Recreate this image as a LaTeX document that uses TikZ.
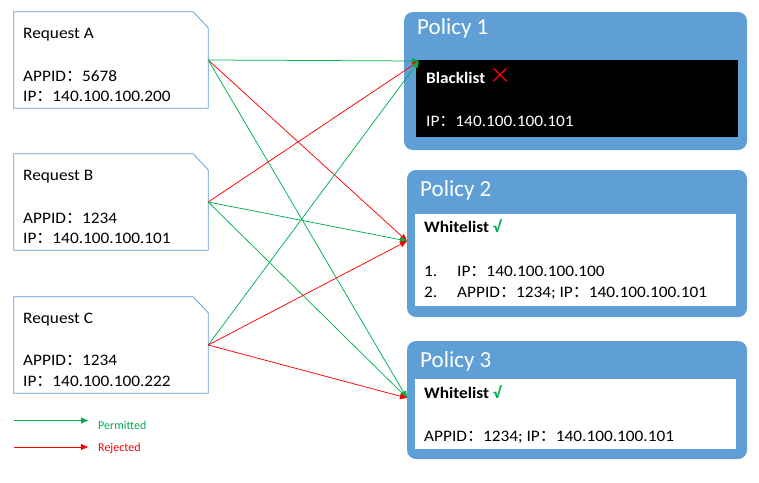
\documentclass[tikz,border=0pt]{standalone}
\usepackage{fontspec}
\setmainfont{Carlito}
\newfontfamily\bodyfont{Carlito}[FakeStretch=1.08]
\newfontfamily\cjkfont{Noto Sans CJK SC}
\newfontfamily\symfont{DejaVu Sans}
\usetikzlibrary{arrows.meta}
\definecolor{reqblue}{HTML}{5B9BD5}
\definecolor{polblue}{HTML}{5F9FD6}
\definecolor{okgreen}{HTML}{00B050}
\definecolor{nored}{HTML}{FF0000}
\newcommand\fcol{{\cjkfont ：}}
\begin{document}
\begin{tikzpicture}[x=1pt,y=-1pt,
  reqbox/.style={minimum width=194pt,minimum height=96pt,inner sep=0pt},
  reqline/.style={draw=reqblue,line width=0.75pt},
  txt/.style={anchor=base west,inner sep=0pt,font=\bodyfont\fontsize{16}{18}\selectfont},
  ttl/.style={anchor=base west,inner sep=0pt,text=white,font=\fontsize{23}{26}\selectfont},
  legtxt/.style={anchor=base west,inner sep=0pt,font=\fontsize{12}{14}\selectfont},
  outer/.style={fill=polblue,rounded corners=9pt,inner sep=0pt},
  inner/.style={inner sep=0pt},
  conn/.style={line width=0.75pt,-{Triangle[length=7pt,width=6pt]}},
  permit/.style={conn,draw=okgreen},
  reject/.style={conn,draw=nored}]
\useasboundingbox (0,0) rectangle (759,482);

% request boxes
\foreach \n/\c in {ra/60,rb/202,rc/345}{
  \node[reqbox] (\n) at (111,\c) {};
  \draw[reqline] (\n.south west) -- (\n.north west) -- ([xshift=-15pt]\n.north east)
     -- ([yshift=-16pt]\n.north east) -- (\n.south east) -- cycle;
}
\node[txt] (ra1) at (23,38) {Request A};
\node[txt] (ra2) at (23,81) {APPID\fcol 5678};
\node[txt] (ra3) at (23,101) {IP\fcol 140.100.100.200};
\node[txt] (rb1) at (23,180) {Request B};
\node[txt] (rb2) at (23,223) {APPID\fcol 1234};
\node[txt] (rb3) at (23,243) {IP\fcol 140.100.100.101};
\node[txt] (rc1) at (23,323) {Request C};
\node[txt] (rc2) at (23,365) {APPID\fcol 1234};
\node[txt] (rc3) at (23,386) {IP\fcol 140.100.100.222};

% policy boxes
\node[outer,minimum width=343pt,minimum height=138pt] (p1) at (575.5,81) {};
\node[inner,fill=black,minimum width=322pt,minimum height=77pt] (p1in) at (577,98.5) {};
\node[outer,minimum width=340pt,minimum height=147pt] (p2) at (577,243.5) {};
\node[inner,fill=white,minimum width=321pt,minimum height=92pt] (p2in) at (575.5,260) {};
\node[outer,minimum width=340pt,minimum height=118pt] (p3) at (577,400) {};
\node[inner,fill=white,minimum width=321pt,minimum height=70pt] (p3in) at (575.5,414) {};

\node[ttl] (p1t) at (417,34) {Policy 1};
\node[ttl] (p2t) at (420,196) {Policy 2};
\node[ttl] (p3t) at (420,367) {Policy 3};

\node[txt,text=white] (p1a) at (426,83) {\textbf{Blacklist} {\color{nored}\cjkfont\fontsize{22}{22}\selectfont ×}};
\node[txt,text=white] (p1b) at (426,126) {IP\fcol 140.100.100.101};

\node[txt] (p2a) at (424,232) {\textbf{Whitelist} {\color{okgreen}\textbf{√}}};
\node[txt] (p2b) at (424,276) {1.};
\node[txt] (p2c) at (457,276) {IP\fcol 140.100.100.100};
\node[txt] (p2d) at (424,297) {2.};
\node[txt] (p2e) at (457,297) {APPID\fcol 1234; IP\fcol 140.100.100.101};

\node[txt] (p3a) at (424,398) {\textbf{Whitelist} {\color{okgreen}\textbf{√}}};
\node[txt] (p3b) at (424,441) {APPID\fcol 1234; IP\fcol 140.100.100.101};

% connector targets
\coordinate (t1) at (419,61);
\coordinate (t2) at (407,241);
\coordinate (t3) at (407,398);

\draw[permit] (ra.east) -- (t1);
\draw[reject] (ra.east) -- (t2);
\draw[permit] (ra.east) -- (t3);
\draw[reject] (rb.east) -- (t1);
\draw[permit] (rb.east) -- (t2);
\draw[permit] (rb.east) -- (t3);
\draw[permit] (rc.east) -- (t1);
\draw[reject] (rc.east) -- (t2);
\draw[reject] (rc.east) -- (t3);

% legend
\coordinate (lg1s) at (14,420.5);
\coordinate (lg1e) at (88,420.5);
\coordinate (lg2s) at (14,447);
\coordinate (lg2e) at (88,447);
\draw[permit] (lg1s) -- (lg1e);
\draw[reject] (lg2s) -- (lg2e);
\node[legtxt,text=okgreen] (lgp) at (98,429) {Permitted};
\node[legtxt,text=nored] (lgr) at (98,451) {Rejected};
\end{tikzpicture}
\end{document}
